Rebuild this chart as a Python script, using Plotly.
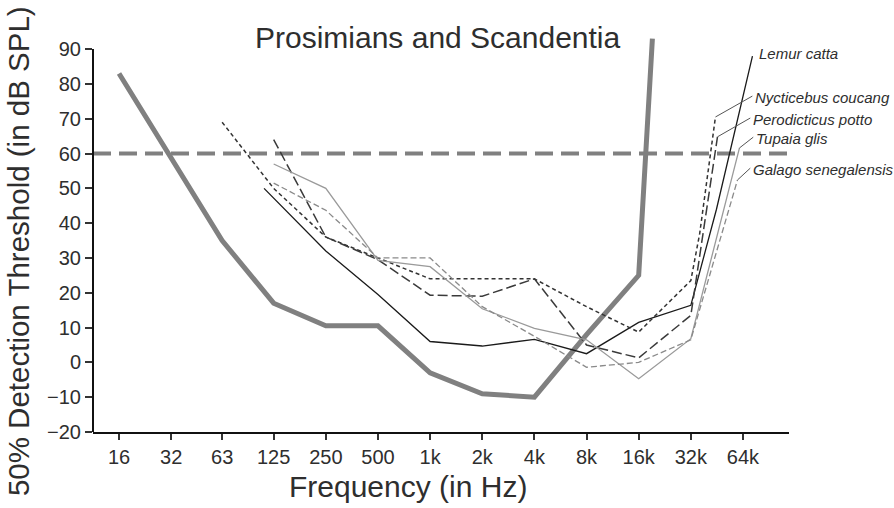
import math
import plotly.graph_objects as go

# ---------------- data ----------------
tick_freqs = [16, 32, 63, 125, 250, 500, 1000, 2000, 4000, 8000, 16000, 32000, 64000]
tick_labels = ["16", "32", "63", "125", "250", "500", "1k", "2k", "4k", "8k", "16k", "32k", "64k"]
y_ticks = [-20, -10, 0, 10, 20, 30, 40, 50, 60, 70, 80, 90]

ref_freq = [16, 32, 63, 125, 250, 500, 1000, 2000, 4000, 8000, 16000, 19200]
ref_db = [83, 58.5, 35, 17, 10.5, 10.5, -3, -9, -10, 8, 25, 93]

lemur_freq = [110, 250, 500, 1000, 2000, 4000, 8000, 16000, 32000, 45000, 72600]
lemur_db = [50, 32, 19.5, 6, 4.7, 6.6, 2.5, 11.5, 16.4, 44, 88]

nyct_freq = [63, 125, 250, 500, 1000, 2000, 4000, 8000, 16000, 32000, 36000, 44400]
nyct_db = [69, 50, 36, 30, 24, 24, 24, 16, 8.7, 23.5, 37, 70.5]

pero_freq = [125, 250, 500, 1000, 2000, 4000, 8000, 16000, 32000, 45600]
pero_db = [64, 36, 29.5, 19.3, 19, 24, 5, 1.3, 13.5, 64.8]

tupaia_freq = [125, 250, 500, 1000, 2000, 4000, 8000, 16000, 32000, 61100]
tupaia_db = [57, 50, 29.3, 27.5, 15.4, 9.8, 6.5, -4.7, 6.8, 61.6]

galago_freq = [125, 250, 500, 1000, 2000, 4000, 8000, 16000, 32000, 59500]
galago_db = [51.5, 43.7, 30, 30, 16, 7.5, -1.4, 0, 6.5, 52.4]

criterion_db = 60

species_names = ["Lemur catta", "Nycticebus coucang", "Perodicticus potto",
                 "Tupaia glis", "Galago senegalensis"]

# ---------------- layout constants ----------------
X_RANGE = [1.0539, 5.0719]   # log10 Hz
Y_RANGE = [-20, 95.2]
FONT = "Liberation Sans, Arial, sans-serif"
TXT = "#2e2e2e"

# label anchors (left edge, vertical middle) in data coords
label_pos = [(77600, 88.6), (73600, 76.0), (71600, 69.7), (74500, 64.2), (71600, 55.3)]

series = [
    (lemur_freq, lemur_db, dict(color="#1a1a1a", width=1.3, dash="solid")),
    (nyct_freq, nyct_db, dict(color="#333333", width=1.5, dash="4px,3px")),
    (pero_freq, pero_db, dict(color="#3a3a3a", width=1.5, dash="10px,4px")),
    (tupaia_freq, tupaia_db, dict(color="#9a9a9a", width=1.3, dash="solid")),
    (galago_freq, galago_db, dict(color="#8a8a8a", width=1.3, dash="6px,3px")),
]

fig = go.Figure()

# reference thick curve
fig.add_trace(go.Scatter(x=ref_freq, y=ref_db, mode="lines",
                         line=dict(color="#808080", width=5), showlegend=False,
                         hoverinfo="skip"))

for (fx, fy, ln), name in zip(series, species_names):
    fig.add_trace(go.Scatter(x=fx, y=fy, mode="lines", line=ln, name=name,
                             showlegend=False))

annotations = []
for i, ((fx, fy, ln), name) in enumerate(zip(series, species_names)):
    lx, ly = label_pos[i]
    if i > 0:
        # leader line from curve end to label
        fig.add_trace(go.Scatter(x=[fx[-1], lx * 0.985], y=[fy[-1], ly + 0.5], mode="lines",
                                 line=dict(color="#555555", width=1), showlegend=False,
                                 hoverinfo="skip"))
    annotations.append(dict(x=math.log10(lx), y=ly, xref="x", yref="y", text="<i>%s</i>" % name,
                            showarrow=False, xanchor="left", yanchor="middle",
                            font=dict(family=FONT, size=15, color=TXT)))

# title & axis titles
annotations.append(dict(x=0.495, y=0.983, xref="paper", yref="paper",
                        text="Prosimians and Scandentia", showarrow=False,
                        xanchor="center", yanchor="middle",
                        font=dict(family=FONT, size=30, color=TXT)))
annotations.append(dict(x=0.4526, y=-0.135, xref="paper", yref="paper",
                        text="Frequency (in Hz)", showarrow=False,
                        xanchor="center", yanchor="middle",
                        font=dict(family=FONT, size=30, color=TXT)))
annotations.append(dict(x=-0.1078, y=0.451, xref="paper", yref="paper",
                        text="50% Detection Threshold (in dB SPL)", showarrow=False,
                        textangle=-90, xanchor="center", yanchor="middle",
                        font=dict(family=FONT, size=29.5, color=TXT)))

shapes = [
    # criterion line
    dict(type="line", xref="paper", yref="y", x0=0, x1=1.0, y0=criterion_db, y1=criterion_db,
         line=dict(color="#808080", width=4, dash="18px,8px"), layer="below"),
    # y axis line
    dict(type="line", xref="paper", yref="y", x0=0, x1=0, y0=y_ticks[0], y1=y_ticks[-1],
         line=dict(color="#111111", width=2)),
]

fig.update_layout(
    width=894, height=508,
    margin=dict(l=93, r=105, t=31, b=76),
    paper_bgcolor="white", plot_bgcolor="white",
    showlegend=False,
    annotations=annotations,
    shapes=shapes,
    xaxis=dict(type="log", range=X_RANGE, tickvals=tick_freqs, ticktext=tick_labels,
               showgrid=False, zeroline=False, showline=True, linecolor="#111111", linewidth=2,
               ticks="outside", ticklen=6, tickwidth=1.5, tickcolor="#333333",
               tickfont=dict(family=FONT, size=20, color=TXT)),
    yaxis=dict(range=Y_RANGE, tickvals=y_ticks, showgrid=False, zeroline=False, showline=False,
               ticks="outside", ticklen=7, tickwidth=1.5, tickcolor="#333333",
               tickfont=dict(family=FONT, size=20, color=TXT)),
)

fig.write_html("out.html")
